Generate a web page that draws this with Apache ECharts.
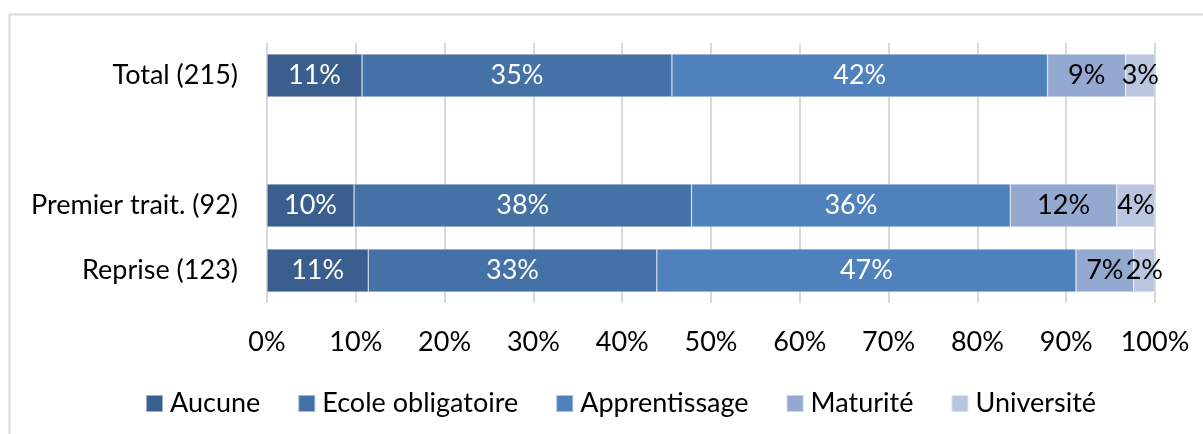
<!DOCTYPE html>
<html>
<head>
<meta charset="utf-8">
<script src="https://cdn.jsdelivr.net/npm/echarts@6/dist/echarts.min.js"></script>
<style>
html,body{margin:0;padding:0;background:#fff;}
#chart{width:1203px;height:434px;}
</style>
</head>
<body>
<div id="chart"></div>
<script>
var categories = ['Total (215)', '', 'Premier trait. (92)', 'Reprise (123)'];
var seriesNames = ['Aucune', 'Ecole obligatoire', 'Apprentissage', 'Maturité', 'Université'];
var aucune = [10.7, null, 9.8, 11.4];
var ecole = [34.9, null, 38.0, 32.5];
var apprentissage = [42.3, null, 35.9, 47.2];
var maturite = [8.8, null, 12.0, 6.5];
var universite = [3.3, null, 4.3, 2.4];
var tickValues = [0, 10, 20, 30, 40, 50, 60, 70, 80, 90, 100];

var values = [aucune, ecole, apprentissage, maturite, universite];
var colors = ['#3A5F8E', '#4472A6', '#4F81BD', '#94A9CF', '#BAC6E0'];
var labelColors = ['#ffffff', '#ffffff', '#ffffff', '#000000', '#000000'];
var FONT = 'Lato';
var FS = 27;

var chart = echarts.init(document.getElementById('chart'), null, {renderer: 'canvas'});
var series = values.map(function (arr, i) {
  return {
    name: seriesNames[i],
    type: 'bar',
    stack: 'total',
    barWidth: 43,
    data: arr,
    itemStyle: {color: colors[i], borderColor: 'rgba(255,255,255,0.5)', borderWidth: 0.6},
    label: {
      show: true,
      position: 'inside',
      color: labelColors[i],
      fontFamily: FONT,
      fontSize: FS,
      formatter: function (p) { return p.value == null ? '' : Math.round(p.value) + '%'; }
    },
    emphasis: {disabled: true}
  };
});

chart.setOption({
  animation: false,
  backgroundColor: '#ffffff',
  textStyle: {fontFamily: FONT},
  graphic: [{
    type: 'polyline',
    shape: {points: [[9.5, 440], [9.5, 14.5], [1210, 14.5]]},
    style: {stroke: '#D9D9D9', lineWidth: 2, fill: null},
    silent: true
  }],
  grid: {left: 267, right: 48, top: 43, bottom: 131},
  legend: {
    top: 385,
    left: 140,
    itemWidth: 17,
    itemHeight: 17,
    itemGap: 37,
    icon: 'rect',
    textStyle: {fontFamily: FONT, fontSize: FS, color: '#000000', padding: [0, 0, 0, 2]},
    data: seriesNames
  },
  xAxis: {
    type: 'value',
    min: tickValues[0],
    max: tickValues[tickValues.length - 1],
    interval: 10,
    axisLine: {show: false},
    axisTick: {show: false},
    splitLine: {show: true, lineStyle: {color: '#D9D9D9', width: 2}},
    axisLabel: {
      margin: 26,
      color: '#000000',
      fontFamily: FONT,
      fontSize: FS,
      formatter: function (v) { return v + '%'; }
    }
  },
  yAxis: {
    type: 'category',
    inverse: true,
    data: categories,
    axisLine: {show: false},
    axisTick: {show: false},
    axisLabel: {margin: 29, color: '#000000', fontFamily: FONT, fontSize: FS}
  },
  series: series
});
</script>
</body>
</html>
